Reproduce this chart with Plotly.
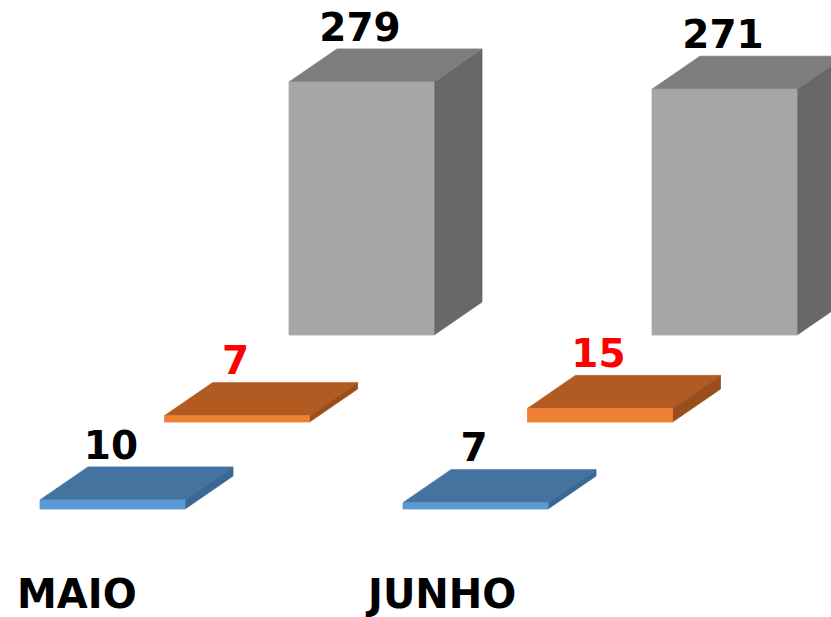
import plotly.graph_objects as go

# ---- data ----
categories = ["MAIO", "JUNHO"]
serie_azul = [10, 7]       # front row (blue)
serie_laranja = [7, 15]    # middle row (orange)
serie_cinza = [279, 271]   # back row (gray)

series_values = [serie_azul, serie_laranja, serie_cinza]
label_colors = ["#000000", "#FF0000", "#000000"]
face_colors = [
    ("#5B9BD5", "#44739F", "#3A6793"),   # front, top, side
    ("#EE8033", "#B15B22", "#9A4E1C"),
    ("#A6A6A6", "#7D7D7D", "#686868"),
]

# ---- geometry (axis units: x = category spacing, y = value units) ----
BW = 145 / 363          # bar front width
DX = 48 / 363           # bar depth in x
DY = 33 / 0.907         # bar depth in y
RDX = 124.5 / 363       # row shift in x
RDY = 87 / 0.907        # row shift in y
LDX = 71 / 363          # label offset from front-left-top corner
LDY = 51 / 0.907
W, H = 831, 617

fig = go.Figure()

def poly(xs, ys, color):
    fig.add_trace(go.Scatter(
        x=xs + [xs[0]], y=ys + [ys[0]], mode="lines", fill="toself",
        fillcolor=color, line=dict(color=color, width=0.8),
        hoverinfo="skip", showlegend=False))

# draw back row first
for s in [2, 1, 0]:
    front_c, top_c, side_c = face_colors[s]
    for c, v in enumerate(series_values[s]):
        x0 = c + s * RDX
        y0 = s * RDY
        y1 = y0 + v
        # side face
        poly([x0 + BW, x0 + BW + DX, x0 + BW + DX, x0 + BW],
             [y0, y0 + DY, y1 + DY, y1], side_c)
        # top face
        poly([x0, x0 + BW, x0 + BW + DX, x0 + DX],
             [y1, y1, y1 + DY, y1 + DY], top_c)
        # front face
        poly([x0, x0 + BW, x0 + BW, x0],
             [y0, y0, y1, y1], front_c)
    # value labels
    fig.add_trace(go.Scatter(
        x=[c + s * RDX + LDX for c in range(len(categories))],
        y=[s * RDY + v + LDY for v in series_values[s]],
        mode="text", text=[str(v) for v in series_values[s]],
        textposition="middle center",
        textfont=dict(family="DejaVu Sans", size=39, color=label_colors[s],
                      weight="bold"),
        hoverinfo="skip", showlegend=False, cliponaxis=False))

# category labels
for c, name in enumerate(categories):
    fig.add_annotation(x=c + 37 / 363, y=(509 - 594) / 0.907, xref="x", yref="y",
                       text="<b>%s</b>" % name, showarrow=False,
                       xanchor="center", yanchor="middle",
                       font=dict(family="DejaVu Sans", size=40, color="#000000"))

fig.update_layout(
    width=W, height=H,
    margin=dict(l=0, r=0, t=0, b=0),
    paper_bgcolor="white", plot_bgcolor="white",
    hovermode=False,
    xaxis=dict(range=[-40 / 363, (W - 40) / 363],
               visible=False, fixedrange=True),
    yaxis=dict(range=[(509 - H) / 0.907, 509 / 0.907],
               visible=False, fixedrange=True),
)

fig.write_html("out.html",
               config={"displayModeBar": False, "staticPlot": True},
               post_script="document.body.style.margin='0px';"
                           "document.body.style.overflow='hidden';")
